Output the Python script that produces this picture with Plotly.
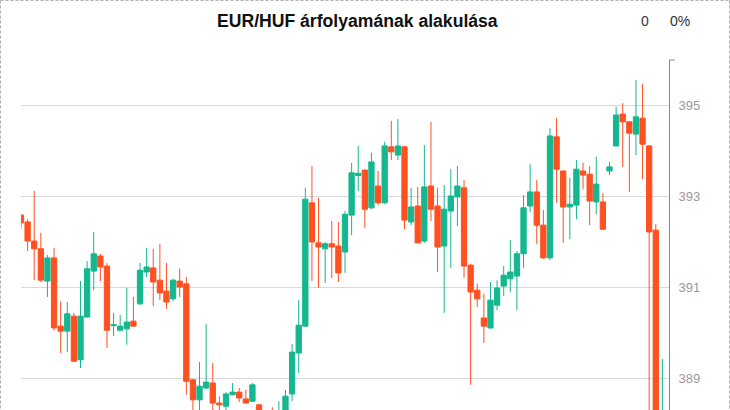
import plotly.graph_objects as go

# Trading day index
days = list(range(98))

open_ = [392.58, 392.43, 392.01, 391.84, 391.13, 391.64, 390.14, 390.03, 390.36, 389.40,
         390.34, 391.35, 391.68, 391.46, 390.15, 390.05, 390.08, 390.25, 390.63, 391.33,
         391.42, 391.15, 390.91, 390.74, 391.13, 391.07, 388.96, 388.52, 388.78, 388.89,
         388.45, 388.38, 388.63, 388.69, 388.54, 388.49, 388.41, 388.10, 388.20, 387.90,
         388.00, 388.65, 389.55, 390.14, 392.85, 391.97, 391.84, 391.95, 391.90, 391.77,
         392.58, 393.45, 393.57, 392.74, 393.22, 392.85, 394.08, 393.90, 394.08, 392.43,
         392.78, 392.01, 393.22, 392.78, 391.90, 392.67, 392.98, 393.18, 391.48, 390.93,
         390.32, 390.10, 390.60, 391.02, 391.18, 391.24, 391.73, 392.78, 393.09, 392.36,
         391.64, 394.30, 393.55, 392.76, 392.80, 393.55, 393.48, 392.87, 392.87, 393.55,
         394.10, 394.80, 394.63, 394.36, 394.71, 394.10, 392.25, 387.60]

high = [392.60, 392.49, 393.11, 392.19, 391.70, 391.86, 390.69, 390.67, 390.43, 391.13,
        391.57, 392.21, 391.73, 391.53, 390.43, 390.38, 390.98, 390.78, 391.53, 391.86,
        391.84, 391.95, 391.53, 391.18, 391.40, 391.22, 388.98, 389.35, 390.19, 389.33,
        388.60, 388.69, 388.89, 388.78, 388.74, 388.89, 388.43, 388.25, 388.36, 388.49,
        388.74, 389.75, 390.71, 393.18, 393.66, 392.96, 391.99, 392.45, 392.43, 392.67,
        393.73, 394.10, 393.58, 393.95, 393.55, 394.19, 394.65, 394.69, 394.10, 393.18,
        393.20, 394.12, 394.63, 393.18, 393.24, 393.59, 393.66, 393.35, 391.51, 391.07,
        390.85, 391.11, 391.15, 391.46, 392.03, 391.79, 393.02, 393.70, 393.35, 392.69,
        394.49, 394.71, 393.56, 393.40, 393.79, 393.73, 393.66, 393.86, 393.07, 393.75,
        394.96, 395.04, 394.64, 395.55, 395.46, 394.12, 392.38, 389.42]

low = [392.27, 391.79, 391.15, 391.11, 390.78, 390.05, 389.55, 389.57, 389.35, 389.22,
       390.33, 390.93, 391.13, 389.66, 389.92, 390.04, 389.73, 390.12, 390.60, 391.22,
       390.58, 390.71, 390.52, 390.69, 390.78, 388.63, 388.20, 388.20, 388.76, 388.20,
       388.25, 388.25, 388.62, 388.47, 388.44, 388.48, 388.00, 387.70, 387.70, 387.80,
       387.90, 388.49, 389.11, 390.13, 391.13, 390.98, 391.09, 391.20, 391.11, 391.31,
       392.14, 393.11, 392.30, 392.71, 392.80, 392.82, 393.79, 393.79, 392.27, 392.36,
       391.96, 391.97, 392.45, 391.33, 390.43, 391.42, 392.34, 391.20, 388.85, 390.56,
       389.77, 390.09, 390.49, 390.80, 390.89, 390.49, 391.42, 392.65, 391.95, 391.62,
       391.59, 392.85, 391.97, 392.05, 392.49, 393.15, 392.36, 392.60, 392.26, 393.46,
       394.09, 393.64, 393.09, 393.90, 393.37, 387.80, 387.60, 387.40]

close = [392.41, 392.01, 391.84, 391.15, 391.64, 390.10, 390.03, 390.41, 389.37, 390.36,
         391.40, 391.73, 391.44, 390.05, 390.17, 390.14, 390.23, 390.14, 391.37, 391.44,
         391.11, 390.87, 390.67, 391.15, 391.00, 388.93, 388.52, 388.82, 388.91, 388.45,
         388.41, 388.65, 388.69, 388.56, 388.45, 388.85, 388.10, 387.90, 387.90, 388.20,
         388.60, 389.57, 390.16, 392.93, 391.99, 391.88, 391.95, 391.88, 391.31, 392.60,
         393.51, 393.50, 392.71, 393.75, 392.85, 394.10, 393.97, 394.10, 392.47, 392.76,
         391.97, 393.20, 392.71, 391.88, 392.71, 393.00, 393.22, 391.46, 390.89, 390.74,
         390.14, 390.71, 390.98, 391.26, 391.33, 391.73, 392.74, 393.09, 392.36, 391.64,
         394.32, 393.59, 392.76, 392.82, 393.59, 393.46, 392.89, 393.26, 392.27, 393.64,
         394.78, 394.63, 394.38, 394.74, 394.14, 392.21, 388.00, 388.10]

y_ticks = [389, 391, 393, 395]
title_text = "EUR/HUF árfolyamának alakulása"
change_abs = "0"
change_pct = "0%"

UP = "#14b78f"
DOWN = "#ff5022"

fig = go.Figure(go.Candlestick(
    x=days, open=open_, high=high, low=low, close=close,
    increasing=dict(line=dict(color=UP, width=1), fillcolor=UP),
    decreasing=dict(line=dict(color=DOWN, width=1), fillcolor=DOWN),
    whiskerwidth=0,
    showlegend=False,
))

W, H = 730, 410
ml, mr, mt, mb = 21, 61, 60, 0
pw, ph = W - ml - mr, H - mt - mb

def px_x(p):
    return (p - ml) / pw

def px_y(p):
    return (H - mb - p) / ph

fig.update_layout(
    width=W, height=H,
    margin=dict(l=ml, r=mr, t=mt, b=mb),
    paper_bgcolor="white", plot_bgcolor="white",
    boxgap=0.2, boxgroupgap=0,
    font=dict(family="Liberation Sans, Arial, sans-serif"),
    xaxis=dict(range=[0, 98], visible=False, rangeslider=dict(visible=False)),
    yaxis=dict(
        side="right", range=[388.297, 395.989],
        tickvals=y_ticks, ticktext=[str(v) for v in y_ticks],
        showgrid=True, gridcolor="#d6dadd", gridwidth=1,
        showline=True, linecolor="#888888", linewidth=1,
        ticks="outside", ticklen=6, tickcolor="rgba(0,0,0,0)",
        tickfont=dict(size=13, color="#9a9a9a"),
        zeroline=False,
    ),
    annotations=[
        dict(text="<b>" + title_text + "</b>", xref="paper", yref="paper",
             x=px_x(357), y=px_y(21), xanchor="center", yanchor="middle",
             showarrow=False, font=dict(size=17.6, color="#111111")),
        dict(text=change_abs, xref="paper", yref="paper",
             x=px_x(645), y=px_y(21), xanchor="center", yanchor="middle",
             showarrow=False, font=dict(size=14, color="#333333")),
        dict(text=change_pct, xref="paper", yref="paper",
             x=px_x(680), y=px_y(21), xanchor="center", yanchor="middle",
             showarrow=False, font=dict(size=14, color="#333333")),
    ],
    shapes=[
        dict(type="line", xref="paper", yref="paper",
             x0=px_x(0.5), x1=px_x(729.5), y0=px_y(0.5), y1=px_y(0.5),
             line=dict(color="#b0b0b0", width=1, dash="3px,2px")),
        dict(type="line", xref="paper", yref="paper",
             x0=px_x(0.5), x1=px_x(0.5), y0=px_y(0.5), y1=px_y(410),
             line=dict(color="#b0b0b0", width=1, dash="3px,2px")),
        dict(type="line", xref="paper", yref="paper",
             x0=px_x(729.5), x1=px_x(729.5), y0=px_y(0.5), y1=px_y(410),
             line=dict(color="#b0b0b0", width=1, dash="3px,2px")),
        dict(type="line", xref="paper", yref="paper",
             x0=1, x1=px_x(675), y0=1, y1=1,
             line=dict(color="#888888", width=1)),
    ],
)

fig.write_html(
    "out.html",
    config={"displayModeBar": False},
    post_script="document.body.style.margin='0';document.body.style.overflow='hidden';",
)
